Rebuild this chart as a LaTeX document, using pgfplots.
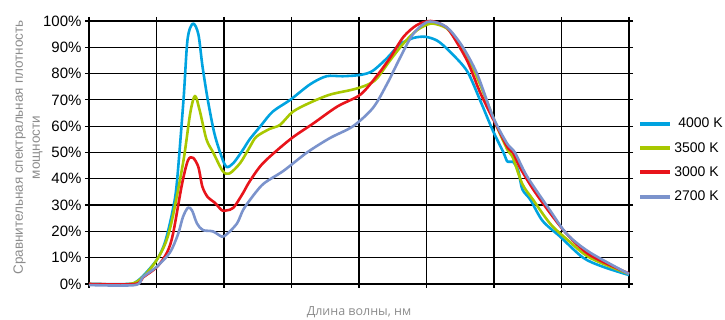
\documentclass[border=0pt]{standalone}
\usepackage{fontspec}
\setmainfont{Liberation Sans}
\newfontfamily\xlabfont{Open Sans}
\usepackage{pgfplots}
\pgfplotsset{compat=1.18}
\definecolor{cA}{HTML}{00A3E0}
\definecolor{cB}{HTML}{A8C800}
\definecolor{cC}{HTML}{E8141B}
\definecolor{cD}{HTML}{7B93CC}
\definecolor{labgray}{HTML}{8C8C8C}
\begin{document}
\begin{tikzpicture}
\begin{axis}[
 scale only axis, width=540pt, height=263pt,
 xmin=380, xmax=780, ymin=0, ymax=100,
 xtick={380,430,...,780}, xticklabels={},
 ytick={0,10,...,100},
 /pgf/number format/assume math mode=true,
 yticklabel={\pgfmathprintnumber{\tick}\%},
 ticklabel style={font=\fontsize{15}{15}\selectfont},
 grid=major, major grid style={black, line width=1.2pt},
 axis line style={black, line width=1.2pt},
 tick style={black, line width=1.2pt},
 tick align=outside, major tick length=4pt,
 clip=false,
 xlabel={Длина волны, нм},
 xlabel style={at={(axis description cs:0.5,0)}, anchor=center, yshift=-28pt, font=\xlabfont\fontsize{12.5}{12.5}\selectfont, text=labgray},
 ylabel={Сравнительная спектральная плотность\\мощности},
 ylabel style={at={(axis description cs:-0.113,0.519)}, anchor=center, align=center, font=\fontsize{13.5}{17}\selectfont, text=labgray},
 legend style={at={(axis description cs:1.017,0.471)}, anchor=west, draw=none, fill=none, font=\fontsize{14}{14}\selectfont, row sep=9pt, inner sep=0pt, legend cell align=left, nodes={inner xsep=2pt}},
 legend image code/.code={\draw[#1, line width=4pt] (0pt,0pt) -- (30pt,0pt);},
 every axis plot/.append style={line width=2.6pt, smooth, tension=0.5, line join=round},
]
\addplot[cA] coordinates {(380,0) (410,0) (414,0.5) (420,3) (430,9) (435,14) (438,19) (442,28) (445,38) (450,70) (453,93) (457,99) (461,95) (464,83) (468,70) (473,57) (478.5,48) (482,44.5) (487,46) (494,51) (499,55) (507,60) (516,65.5) (529,70) (544,76) (556,79) (568,79) (581,79.5) (590,81) (601,86) (610,91) (620,93.5) (629,94) (638,92.5) (647,88.5) (660,81) (670,69.5) (679,58.5) (687,50) (690,46.5) (694,46.5) (698,43) (701,36) (707,32) (716,24) (729,18) (746,10) (761,6.5) (780,3.4)};
\addlegendentry{~4000 K}
\addplot[cB] coordinates {(380,0) (410,0) (420,2.7) (430,9) (437,16) (442,25.5) (450,47) (455,65) (458.5,71.5) (462,66) (467,55) (472,50) (479,43) (484,42) (492,46) (499,52) (504,56) (514,59) (521.5,60.5) (531,65.5) (544,69) (558.5,72) (576,74) (586,75.7) (593,78) (603,85) (613,91.5) (623,96.5) (633,99) (642,98) (647.4,96) (659,88) (669.6,76) (682,60) (690,51) (694,48) (701,38) (709,32) (721.5,23) (734,17) (751,10) (780,3.8)};
\addlegendentry{3500 K}
\addplot[cC] coordinates {(380,0) (414,0) (420,2.5) (430.4,6.5) (437.8,12) (442.2,19) (448.9,38) (453.3,47) (457,48) (461,44.5) (464,37) (468,33) (473,31) (478.5,28) (482,28) (487,29) (494,34.5) (499,39) (509,46) (529,55) (546,61) (564,67.5) (581,72) (593,79) (603,86) (613,94) (623,98.5) (633,100) (642,98.5) (647.4,96) (660,85) (670,72.5) (682,60) (690,52) (694,50) (699,44.5) (709,36) (721.5,27) (734,19) (751,11) (780,4)};
\addlegendentry{3000 K}
\addplot[cD] coordinates {(380,-0.4) (414,-0.4) (420,2.7) (430,6.5) (440,12) (446,19) (449.6,25.5) (453.3,29) (456.3,28) (460,23) (464.4,20.5) (471.8,20) (478.5,18) (482.2,19) (489.6,23) (494,28) (499.3,32) (509,38) (524,43) (541.5,50) (558.5,55.5) (575.6,60) (590.4,67) (600.7,76) (610.4,86) (620,95) (630.4,99.6) (640,99) (647.4,96.5) (657,90) (667.4,80) (679.3,63.5) (689.6,53.5) (695.5,50) (704.4,41) (721.5,28) (734,19) (751,12) (780,3.8)};
\addlegendentry{2700 K}
\end{axis}
\pgfresetboundingbox
\path[use as bounding box] ([shift={(-89pt,-36pt)}]current axis.south west) rectangle ([shift={(96pt,21pt)}]current axis.north east);
\end{tikzpicture}
\end{document}
